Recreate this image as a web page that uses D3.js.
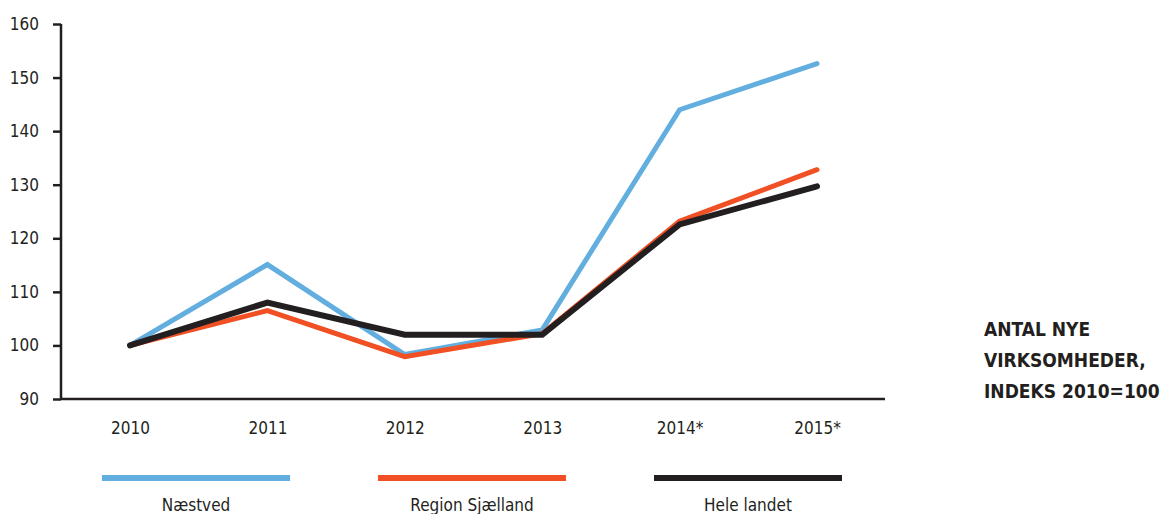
<!DOCTYPE html>
<html>
<head>
<meta charset="utf-8">
<title>Antal nye virksomheder</title>
<style>
  body { margin: 0; background: #fff; }
  svg text { font-family: "Liberation Sans Narrow", "DejaVu Sans Condensed", "DejaVu Sans", sans-serif; font-stretch: condensed; fill: #231f20; }
  .axis path, .axis line { stroke: #231f20; stroke-width: 2.5; fill: none; }
  .axis text { font-size: 17px; }
  .line { fill: none; stroke-linecap: round; stroke-linejoin: miter; }
  .title { font-size: 19px; font-weight: bold; }
  .legend text { font-size: 17px; }
</style>
</head>
<body>
<svg width="1160" height="514"></svg>
<script src="https://d3js.org/d3.v7.min.js"></script>
<script>
// data
var years = ["2010", "2011", "2012", "2013", "2014*", "2015*"];
var naestved = [100, 115.1, 98.3, 102.9, 144, 152.6];
var regionSj = [100, 106.5, 97.9, 102.2, 123.2, 132.8];
var heleLandet = [100, 108, 102, 102, 122.6, 129.7];
var yTicks = [90, 100, 110, 120, 130, 140, 150, 160];
var seriesNames = ["Næstved", "Region Sjælland", "Hele landet"];
var titleLines = ["ANTAL NYE", "VIRKSOMHEDER,", "INDEKS 2010=100"];

var colors = ["#62aedf", "#f05023", "#231f20"];
var widths = [5, 5, 6];
var series = [naestved, regionSj, heleLandet];

var svg = d3.select("svg");
var m = {left: 61, right: 885, top: 24, bottom: 399};

// scales
var x = d3.scalePoint().domain(years).range([130, 817]);
var y = d3.scaleLinear().domain([90, 160]).range([m.bottom, m.top]);

// y axis
var gy = svg.append("g")
  .attr("class", "axis")
  .attr("transform", "translate(" + m.left + ",0)")
  .call(d3.axisLeft(y).tickValues(yTicks).tickSize(8).tickSizeOuter(0).tickPadding(14));
gy.select(".domain").attr("d", "M0," + m.top + "V" + m.bottom);

// x axis (line only, labels below)
var gx = svg.append("g")
  .attr("class", "axis")
  .attr("transform", "translate(0," + m.bottom + ")")
  .call(d3.axisBottom(x).tickSize(0).tickPadding(23));
gx.select(".domain").attr("d", "M" + m.left + ",0H" + m.right);

// lines
var line = d3.line()
  .x(function(d, i) { return x(years[i]); })
  .y(function(d) { return y(d); });

series.forEach(function(s, i) {
  svg.append("path")
    .datum(s)
    .attr("class", "line")
    .attr("stroke", colors[i])
    .attr("stroke-width", widths[i])
    .attr("d", line);
});

// title on the right
svg.append("text")
  .attr("class", "title")
  .attr("x", 984)
  .attr("y", 336)
  .selectAll("tspan")
  .data(titleLines)
  .enter().append("tspan")
  .attr("x", 984)
  .attr("dy", function(d, i) { return i === 0 ? 0 : 31; })
  .text(function(d) { return d; });

// legend
var legX = d3.scalePoint().domain(seriesNames).range([196, 748]);
var leg = svg.append("g").attr("class", "legend");
seriesNames.forEach(function(name, i) {
  leg.append("rect")
    .attr("x", legX(name) - 94)
    .attr("y", 475)
    .attr("width", 188)
    .attr("height", 6)
    .attr("fill", colors[i]);
  leg.append("text")
    .attr("x", legX(name))
    .attr("y", 511)
    .attr("text-anchor", "middle")
    .text(name);
});
</script>
</body>
</html>
